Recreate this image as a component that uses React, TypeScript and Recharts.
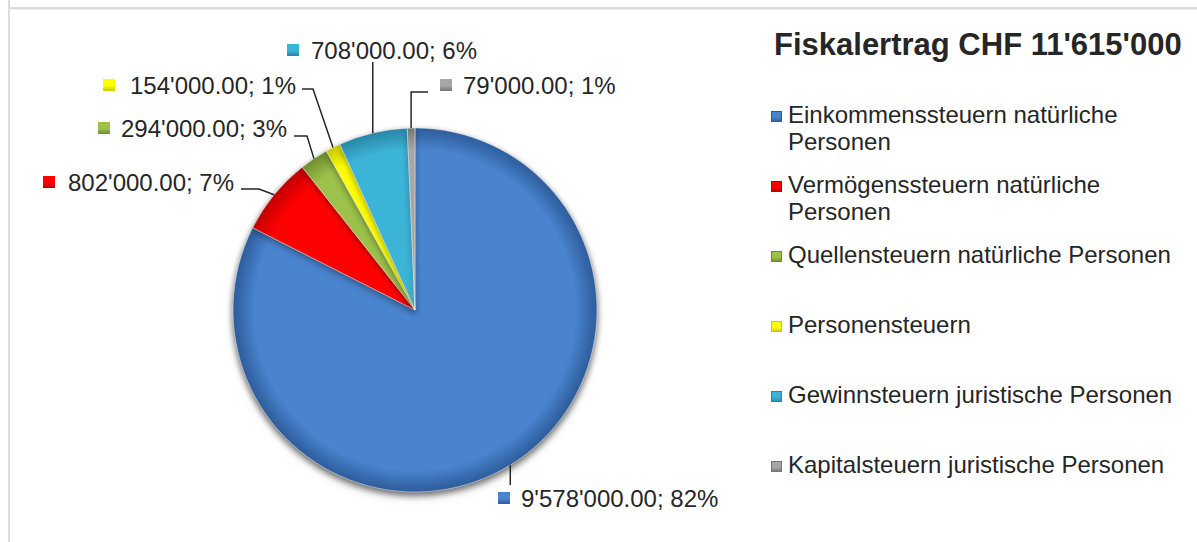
import { PieChart, Pie, Cell, Legend } from 'recharts';

const chartTitle = "Fiskalertrag CHF 11'615'000";

const categories = [
  'Einkommenssteuern natürliche Personen',
  'Vermögenssteuern natürliche Personen',
  'Quellensteuern natürliche Personen',
  'Personensteuern',
  'Gewinnsteuern juristische Personen',
  'Kapitalsteuern juristische Personen',
];

const amounts = [9578000, 802000, 294000, 154000, 708000, 79000];

const COLORS = ['#4a84cf', '#ff0000', '#9cc24b', '#ffff00', '#3cb4d8', '#a6a6a6'];
const RIMS = ['#2d5c9a', '#c00000', '#6e8c2f', '#c9c900', '#2886a5', '#767676'];

const FONT = '"Liberation Sans", Arial, sans-serif';
const TEXT = '#262626';

// where each data label sits, relative to the pie centre
// path: leader points after the arc point (x null = straight up/down from the arc)
const LABEL_LAYOUT = [
  { path: [[null, 175]], markerX: 83, textX: 106, y: 188 },
  { path: [[-156, -121], [-174, -121]], markerX: -372, textX: -347, y: -128 },
  { path: [[-108, -174], [-121, -174]], markerX: -317, textX: -294, y: -182 },
  { path: [[-102, -221], [-113, -221]], markerX: -312, textX: -285, y: -225 },
  { path: [[null, -248]], markerX: -128, textX: -104, y: -260 },
  { path: [[null, -218], [13, -218]], markerX: 25, textX: 48, y: -225 },
];

const data = categories.map((name, i) => ({ name, value: amounts[i] }));

const formatCHF = (value: number) => {
  const [int, dec] = value.toFixed(2).split('.');
  return `${int.replace(/\B(?=(\d{3})+(?!\d))/g, "'")}.${dec}`;
};

const renderLabel = (props: any) => {
  const { cx, cy, midAngle, outerRadius, index, value, percent } = props;
  const layout = LABEL_LAYOUT[index];
  if (!layout) return null;
  const rad = Math.PI / 180;
  const sx = cx + outerRadius * Math.cos(-midAngle * rad);
  const sy = cy + outerRadius * Math.sin(-midAngle * rad);
  const points = [[sx, sy], ...layout.path.map(([dx, dy]) => [dx === null ? sx : cx + dx, cy + (dy as number)])];
  return (
    <g key={`label-${index}`}>
      <polyline
        points={points.map((p) => p.join(',')).join(' ')}
        fill="none"
        stroke={TEXT}
        strokeWidth={1.5}
      />
      <rect
        x={cx + layout.markerX}
        y={cy + layout.y - 6}
        width={12}
        height={12}
        fill={`url(#key-${index})`}
      />
      <text
        x={cx + layout.textX}
        y={cy + layout.y + 8.5}
        fill={TEXT}
        fontSize={24}
        fontFamily={FONT}
      >
        {`${formatCHF(value)}; ${Math.round(percent * 100)}%`}
      </text>
    </g>
  );
};

const renderLegend = (props: any) => {
  const payload = [...(props.payload ?? [])].sort(
    (a: any, b: any) => categories.indexOf(a.value) - categories.indexOf(b.value),
  );
  return (
    <div style={{ position: 'relative', width: 426, height: 542, fontFamily: FONT, color: TEXT }}>
      <div
        style={{
          position: 'absolute',
          left: 3,
          top: 27,
          fontSize: 31,
          lineHeight: '35px',
          fontWeight: 'bold',
          whiteSpace: 'nowrap',
        }}
      >
        {chartTitle}
      </div>
      {payload.map((entry: any) => {
        const i = categories.indexOf(entry.value);
        return (
          <div key={entry.value} style={{ position: 'absolute', left: 0, top: 101 + i * 70, width: 422 }}>
            <span
              style={{
                position: 'absolute',
                left: 0,
                top: 10,
                width: 11,
                height: 11,
                background: `linear-gradient(180deg, ${COLORS[i]} 0%, ${COLORS[i]} 55%, ${RIMS[i]} 100%)`,
                boxShadow: `inset 0 0 0 1px ${RIMS[i]}`,
              }}
            />
            <div style={{ marginLeft: 17, width: 400, fontSize: 24, lineHeight: '27px' }}>{entry.value}</div>
          </div>
        );
      })}
    </div>
  );
};

export default function App() {
  return (
    <div
      style={{
        position: 'absolute',
        left: 0,
        top: 0,
        width: 1197,
        height: 542,
        background: '#ffffff',
        overflow: 'hidden',
      }}
    >
      <style>{`.fiscal-pie { filter: drop-shadow(0px 3px 3px rgba(0,0,0,0.35)); }`}</style>
      <div style={{ position: 'absolute', left: 8, top: 0, width: 2, height: 542, background: '#dcdcdc' }} />
      <div style={{ position: 'absolute', left: 8, top: 7, width: 1189, height: 2, background: '#dcdcdc' }} />
      <div style={{ position: 'absolute', left: 8, top: 9, width: 1189, height: 1, background: '#efefef' }} />
      <div style={{ position: 'absolute', left: 0, top: 0 }}>
        <PieChart width={1197} height={542} margin={{ top: 0, right: 0, bottom: 0, left: 0 }}>
          <defs>
            {COLORS.map((color, i) => (
              <radialGradient
                key={`slice-${i}`}
                id={`slice-${i}`}
                gradientUnits="userSpaceOnUse"
                cx={415}
                cy={310}
                r={182}
              >
                <stop offset="0%" stopColor={color} />
                <stop offset="88%" stopColor={color} />
                <stop offset="100%" stopColor={RIMS[i]} />
              </radialGradient>
            ))}
            {COLORS.map((color, i) => (
              <linearGradient key={`key-${i}`} id={`key-${i}`} x1="0" y1="0" x2="0" y2="1">
                <stop offset="0%" stopColor={color} />
                <stop offset="55%" stopColor={color} />
                <stop offset="100%" stopColor={RIMS[i]} />
              </linearGradient>
            ))}
          </defs>
          <Pie
            data={data}
            dataKey="value"
            nameKey="name"
            cx={415}
            cy={310}
            outerRadius={182}
            startAngle={90}
            endAngle={-270}
            label={renderLabel}
            labelLine={false}
            className="fiscal-pie"
            isAnimationActive={false}
          >
            {data.map((entry, i) => (
              <Cell
                key={entry.name}
                fill={`url(#slice-${i})`}
                stroke="rgba(255,255,255,0.45)"
                strokeWidth={1}
              />
            ))}
          </Pie>
          <Legend
            content={renderLegend}
            itemSorter={null as any}
            wrapperStyle={{ left: 771, top: 0, width: 426, height: 542 }}
          />
        </PieChart>
      </div>
    </div>
  );
}
